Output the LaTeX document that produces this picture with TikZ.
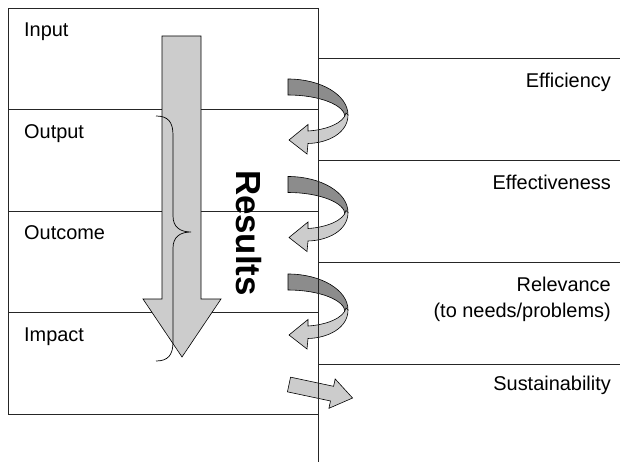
\documentclass[tikz,border=0pt]{standalone}
\usepackage{fontspec}
\setmainfont{Liberation Sans}
\usepackage{tikz}
\usetikzlibrary{positioning}

\tikzset{
  rule/.style={draw=black!85, line width=0.9bp},
  band/.style={draw=black, line width=0.6bp},
  stage/.style={anchor=base west, inner sep=0},
  crit/.style={anchor=base east, inner sep=0, align=right},
}

\begin{document}
\begin{tikzpicture}[x=1bp, y=-1bp, font=\fontsize{20}{25.6}\selectfont]
\useasboundingbox (0,0) rectangle (620,462);
% stages box
\draw[rule] (8,8) rectangle (318,414);
\foreach \y in {109.5,211,312.5}
  \draw[rule] (8,\y) -- (318,\y);
\foreach \y in {58,160,262,364}
  \draw[rule] (318,\y) -- (620,\y);
\node[stage] (input) at (24,37) {Input};
\node[stage] (output) at (24,138.5) {Output};
\node[stage] (outcome) at (24,240) {Outcome};
\node[stage] (impact) at (24,341.5) {Impact};
% big arrow
\draw[band, fill=black!20] (162,36) -- (201,36) -- (201,299) -- (221,299) -- (182,357)
  -- (143,299) -- (162,299) -- cycle;
% brace
\draw[line width=0.7bp] (156,116) .. controls (168,116) and (173,122) .. (173,135) -- (173,216)
  .. controls (173,227) and (180,232) .. (191,232)
  .. controls (180,232) and (173,237) .. (173,248) -- (173,342)
  .. controls (173,355) and (168,361) .. (156,361);
\node[rotate=-90, font=\bfseries\fontsize{35}{40}\selectfont] (results) at (249,233) {Results};
% curls
\foreach \y in {79,176.5,274} {
  \begin{scope}[shift={(288,\y)}]
    \draw[band, fill=black!45] (0,0) .. controls (33,0) and (60,16) .. (60,36) -- (57,38)
      .. controls (57,26) and (31,16) .. (0,16) -- cycle;
    \draw[band, fill=black!20] (60,36) .. controls (60,54) and (40,64) .. (20,64.5)
      -- (19,75) -- (1,61) -- (20,45.5) -- (20,52)
      .. controls (38,51) and (56,44) .. (58,34) -- cycle;
  \end{scope}
}
% sustainability arrow
\begin{scope}[shift={(289,384.5)}, rotate=-12]
  \draw[band, fill=black!20] (0,-7.5) -- (44,-7.5) -- (44,-15) -- (65,0) -- (44,15)
    -- (44,7.5) -- (0,7.5) -- cycle;
\end{scope}
\draw[rule] (318,8) -- (318,462);
% criteria
\node[crit] (eff) at (611,87.5) {Efficiency};
\node[crit] (effect) at (611,189.5) {Effectiveness};
\node[crit, anchor=north east] (rel) at (611,277) {Relevance\\(to needs/problems)};
\node[crit] (sust) at (611,390) {Sustainability};
\end{tikzpicture}
\end{document}
